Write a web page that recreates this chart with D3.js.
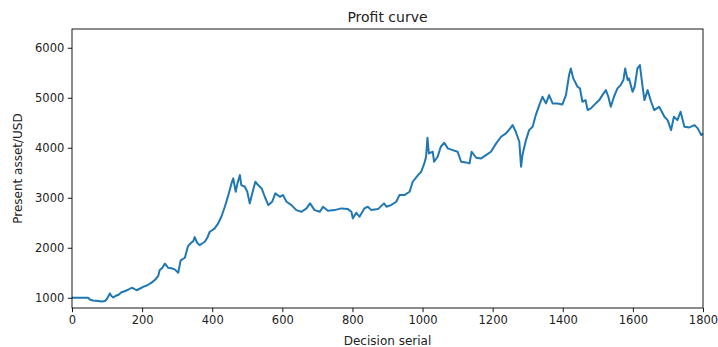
<!DOCTYPE html>
<html>
<head>
<meta charset="utf-8">
<script src="https://cdn.jsdelivr.net/npm/d3@7"></script>
<style>
  html, body { margin: 0; padding: 0; background: #fff; }
  svg { display: block; font-family: "DejaVu Sans", sans-serif; }
</style>
</head>
<body>
<svg id="chart" width="718" height="347"></svg>
<script>
// Decision serial (x) and present asset in USD (y)
const decisionSerial = [
  0, 46, 52, 60, 75, 85, 94, 100, 108, 113, 118, 125, 133, 141, 150, 160, 170, 177, 184, 193,
  203, 215, 227, 237, 246, 250, 258, 265, 270, 274, 283, 293, 303, 310, 322, 331, 340, 346, 350, 357,
  364, 372, 379, 386, 393, 400, 407, 417, 426, 436, 446, 455, 460, 467, 472, 479, 483, 493, 500, 507,
  514, 523, 531, 541, 550, 560, 571, 580, 593, 602, 612, 626, 640, 655, 669, 679, 692, 707, 716, 730,
  749, 768, 787, 797, 801, 811, 820, 834, 844, 854, 873, 890, 897, 910, 925, 934, 948, 963, 972, 987,
  996, 1005, 1010, 1014, 1018, 1029, 1033, 1043, 1052, 1062, 1072, 1086, 1100, 1110, 1124, 1134, 1140, 1153, 1167, 1181,
  1195, 1210, 1224, 1238, 1250, 1257, 1266, 1276, 1281, 1285, 1295, 1304, 1314, 1323, 1333, 1342, 1352, 1361, 1371, 1385,
  1399, 1409, 1418, 1423, 1430, 1442, 1449, 1456, 1465, 1471, 1480, 1494, 1504, 1513, 1523, 1530, 1537, 1546, 1556, 1565,
  1573, 1578, 1585, 1589, 1599, 1605, 1613, 1620, 1627, 1633, 1642, 1652, 1661, 1675, 1690, 1699, 1709, 1717, 1727, 1736,
  1747, 1761, 1776, 1785, 1795, 1800
];
const presentAsset = [
  1000, 1000, 960, 945, 935, 925, 935, 980, 1087, 1030, 1007, 1040, 1060, 1110, 1130, 1160, 1200, 1180, 1150, 1180,
  1217, 1250, 1303, 1360, 1437, 1550, 1600, 1683, 1640, 1600, 1590, 1567, 1500, 1747, 1800, 2033, 2100, 2133, 2213, 2100,
  2053, 2090, 2120, 2200, 2320, 2350, 2387, 2487, 2620, 2820, 3053, 3287, 3387, 3120, 3287, 3453, 3253, 3220, 3120, 2887,
  3087, 3320, 3253, 3187, 3020, 2853, 2920, 3087, 3020, 3053, 2920, 2853, 2753, 2720, 2787, 2887, 2753, 2720, 2820, 2740,
  2753, 2787, 2773, 2720, 2587, 2700, 2620, 2787, 2820, 2753, 2773, 2887, 2820, 2853, 2920, 3053, 3053, 3120, 3320, 3453,
  3520, 3687, 3820, 4200, 3887, 3920, 3720, 3820, 4020, 4100, 3987, 3953, 3920, 3720, 3707, 3687, 3920, 3800, 3787, 3853,
  3920, 4087, 4220, 4287, 4387, 4453, 4320, 4120, 3620, 3853, 4153, 4353, 4420, 4653, 4853, 5020, 4887, 5053, 4887, 4887,
  4867, 5053, 5453, 5587, 5387, 5220, 5187, 4920, 4953, 4753, 4787, 4887, 4953, 5053, 5153, 5020, 4820, 5020, 5187, 5253,
  5353, 5587, 5353, 5387, 5120, 5220, 5587, 5653, 5253, 4953, 5153, 4920, 4753, 4820, 4620, 4553, 4353, 4620, 4553, 4720,
  4420, 4407, 4453, 4387, 4253, 4287
];
const xTicks = [0, 200, 400, 600, 800, 1000, 1200, 1400, 1600, 1800];
const yTicks = [1000, 2000, 3000, 4000, 5000, 6000];

const chartTitle = "Profit curve";
const xLabel = "Decision serial";
const yLabel = "Present asset/USD";

const svg = d3.select("#chart");
const margin = { left: 72, right: 15, top: 29, bottom: 39 };
const W = 718, H = 347;
const plotW = W - margin.left - margin.right;
const plotH = H - margin.top - margin.bottom;

const x = d3.scaleLinear().domain([0, 1800]).range([0, plotW]);
const y = d3.scaleLinear().domain([795, 6375]).range([plotH, 0]);

const g = svg.append("g").attr("transform", `translate(${margin.left},${margin.top})`);

// series line
const points = decisionSerial.map((s, i) => [s, presentAsset[i]]);
const clipId = "plot-clip";
g.append("clipPath").attr("id", clipId)
  .append("rect").attr("width", plotW).attr("height", plotH);

g.append("path")
  .datum(points)
  .attr("clip-path", `url(#${clipId})`)
  .attr("fill", "none")
  .attr("stroke", "#1f77b4")
  .attr("stroke-width", 2)
  .attr("stroke-linejoin", "round")
  .attr("d", d3.line().x(d => x(d[0])).y(d => y(d[1])));

// axes
const xAxis = d3.axisBottom(x).tickValues(xTicks).tickFormat(d3.format("d")).tickSize(4.2).tickPadding(3.5).tickSizeOuter(0);
const yAxis = d3.axisLeft(y).tickValues(yTicks).tickFormat(d3.format("d")).tickSize(4.2).tickPadding(3.5).tickSizeOuter(0);

const gx = g.append("g").attr("transform", `translate(0,${plotH})`).call(xAxis);
const gy = g.append("g").call(yAxis);
[gx, gy].forEach(a => {
  a.select(".domain").remove();
  a.selectAll("line").attr("stroke", "#000").attr("stroke-width", 0.9);
  a.selectAll("text").attr("fill", "#222").style("font-size", "11.5px").style("font-family", "DejaVu Sans");
});

// frame
g.append("rect")
  .attr("x", 0).attr("y", 0).attr("width", plotW).attr("height", plotH)
  .attr("fill", "none").attr("stroke", "#000").attr("stroke-width", 0.9);

// title and axis labels
svg.append("text")
  .attr("x", margin.left + plotW / 2).attr("y", 22)
  .attr("text-anchor", "middle").attr("fill", "#222")
  .style("font-size", "14px")
  .text(chartTitle);

svg.append("text")
  .attr("x", margin.left + plotW / 2).attr("y", 345)
  .attr("text-anchor", "middle").attr("fill", "#222")
  .style("font-size", "12px")
  .text(xLabel);

svg.append("text")
  .attr("transform", `translate(22,${margin.top + plotH / 2}) rotate(-90)`)
  .attr("text-anchor", "middle").attr("fill", "#222")
  .style("font-size", "12px")
  .text(yLabel);
</script>
</body>
</html>
